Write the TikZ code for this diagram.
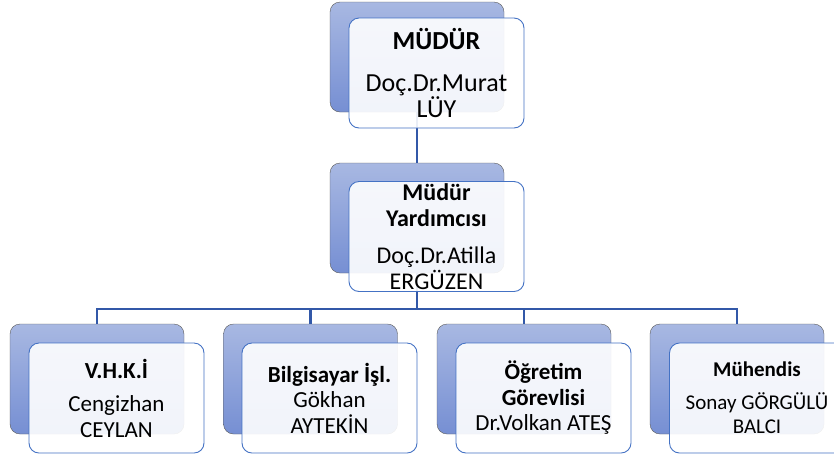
\documentclass[tikz,border=0pt]{standalone}
\usepackage{fontspec}
\setmainfont{Carlito}
\definecolor{azulfondo}{RGB}{168,184,226}
\definecolor{azuloscuro}{RGB}{118,143,211}
\definecolor{azulborde}{RGB}{68,114,196}
\definecolor{azullinea}{RGB}{50,88,168}
\tikzset{
    fondo/.style={draw=black!65, rounded corners=10pt, top color=azulfondo, bottom color=azuloscuro,
        minimum width=174pt, minimum height=110pt, inner sep=0pt},
    frente/.style={draw=azulborde, line width=0.9pt, rounded corners=10pt, fill=white, fill opacity=0.9,
        text opacity=1, minimum width=175pt, minimum height=110pt, inner sep=0pt, align=center},
    enlace/.style={draw=azullinea, line width=2.8pt}
}
\begin{document}
\begin{tikzpicture}[x=1pt, y=-1pt]
                \useasboundingbox (0,0) rectangle (834,459);

                % Cajas de fondo
                \node[fondo] (mudur) at (417,57) {};
                \node[fondo] (yard) at (417,218) {};
                \node[fondo] (vhki) at (97,379) {};
                \node[fondo] (bilgi) at (310.5,379) {};
                \node[fondo] (ogr) at (524,379) {};
                \node[fondo] (muh) at (737,379) {};

                % Enlaces
                \coordinate (bus) at (417,309);
                \draw[enlace] (mudur.south) -- (yard.north);
                \draw[enlace] (yard.south) -- (bus);
                \draw[enlace] (bus) -| (vhki.north);
                \draw[enlace] (bus) -| (bilgi.north);
                \draw[enlace] (bus) -| (ogr.north);
                \draw[enlace] (bus) -| (muh.north);

                % Cajas con texto
                \node[frente, font=\fontsize{26}{26}\selectfont] (mudurT) at (436.5,73)
                    {\bfseries MÜDÜR\\[16pt]Doç.Dr.Murat\\LÜY};
                \node[frente, font=\fontsize{24}{25.5}\selectfont] (yardT) at (436.5,236.5)
                    {\bfseries Müdür\\\bfseries Yardımcısı\\[12pt]Doç.Dr.Atilla\\ERGÜZEN};
                \node[frente, font=\fontsize{23}{25.5}\selectfont] (vhkiT) at (116.5,398)
                    {\bfseries V.H.K.İ\\[8pt]Cengizhan\\CEYLAN};
                \node[frente, font=\fontsize{23}{25.5}\selectfont] (bilgiT) at (329.5,398)
                    {\bfseries Bilgisayar İşl.\\Gökhan\\AYTEKİN};
                \node[frente, font=\fontsize{23}{25.5}\selectfont] (ogrT) at (543.5,398)
                    {\bfseries Öğretim\\\bfseries Görevlisi\\Dr.Volkan ATEŞ};
                \node[frente, font=\fontsize{21}{24}\selectfont] (muhT) at (757,398)
                    {\bfseries Mühendis\\[9pt]Sonay GÖRGÜLÜ\\BALCI};
            \end{tikzpicture}
\end{document}
